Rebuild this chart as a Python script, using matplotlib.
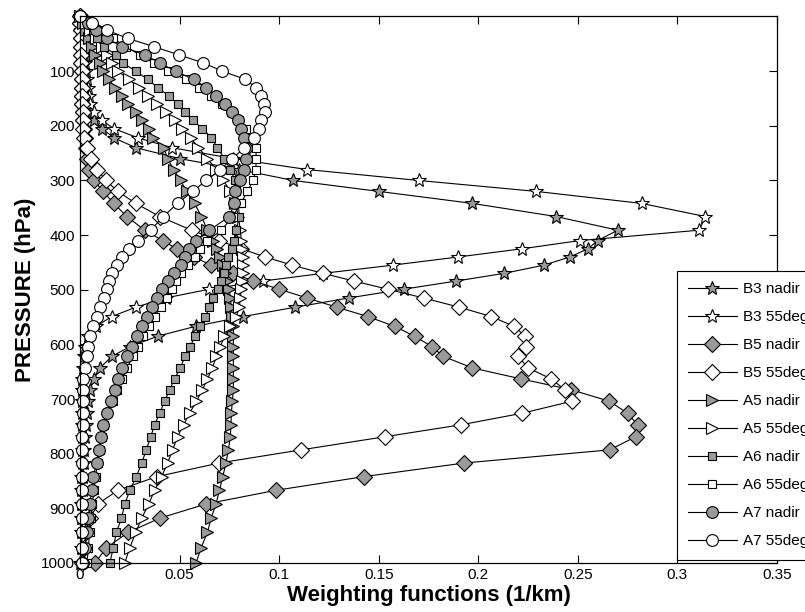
import matplotlib
matplotlib.use("Agg")
import matplotlib.pyplot as plt

plt.rcParams['font.family'] = ['Liberation Sans', 'DejaVu Sans']

pressure = [0, 12, 25, 40, 55, 70, 85, 100, 115, 130, 145, 160, 175, 190, 205, 222, 240, 260, 280, 300,
            320, 342, 366, 391, 410, 425, 440, 455, 470, 484, 499, 515, 532, 549, 567, 585, 604, 622, 643, 663,
            683, 704, 726, 747, 769, 793, 817, 842, 867, 892, 918, 944, 972, 1000]

b3_nadir = [0, .0003, .0006, .001, .0013, .0016, .002, .0025, .003, .0035,
            .004, .0045, .0055, .007, .011, .017, .028, .05, .08, .107,
            .15, .197, .239, .270, .260, .255, .246, .233, .213, .189,
            .1625, .135, .108, .082, .058, .039, .025, .016, .01, .007,
            .005, .004, .0033, .0028, .0024, .002, .0018, .0016, .0014, .0012,
            .001, .0009, .0008, .0007]
b3_55 = [0, .0005, .001, .0015, .002, .002, .0025, .003, .0035, .004,
         .0045, .005, .007, .011, .017, .029, .046, .077, .114, .170,
         .229, .282, .314, .311, .251, .222, .190, .157, .122, .092,
         .065, .043, .028, .016, .008, .004, .0025, .002, .0015, .0012,
         .001, .001, .001, .001, .0008, .0008, .0008, .0007, .0006, .0005,
         .0005, .0004, .0003, .0002]
b5_nadir = [0, .0002, .0003, .0004, .0005, .0006, .0007, .0008, .0009, .001,
            .0011, .0012, .0014, .0017, .002, .0025, .003, .0035, .0045, .0072,
            .0115, .017, .0235, .0325, .0415, .0485, .057, .066, .077, .087,
            .1, .114, .129, .1445, .158, .168, .1767, .1825, .197, .2213,
            .2467, .2658, .275, .28, .279, .266, .193, .1425, .0983, .0633,
            .04, .0242, .0133, .0075]
b5_55 = [0, .0002, .0003, .0004, .0005, .0006, .0007, .0008, .0009, .001,
         .0011, .0012, .0013, .0014, .0016, .0018, .0035, .0055, .0085, .013,
         .019, .028, .04, .056, .07, .081, .093, .1065, .122, .1375,
         .1545, .1725, .1905, .2065, .218, .2235, .224, .22, .225, .2365,
         .2435, .247, .222, .1915, .153, .111, .07, .0385, .019, .009,
         .005, .003, .002, .0012]
a5_nadir = [0, .0015, .003, .0045, .006, .0075, .01, .0117, .0145, .0175,
            .021, .024, .028, .031, .0345, .0365, .042, .044, .047, .0505,
            .0535, .0575, .061, .064, .067, .069, .0705, .072, .073, .074,
            .075, .0755, .076, .0765, .077, .077, .077, .077, .077, .077,
            .077, .0765, .076, .0758, .0755, .0745, .0733, .0717, .07, .0683,
            .0658, .064, .0608, .0583]
a5_55 = [0, .003, .005, .008, .011, .0135, .016, .019, .0245, .0295,
         .034, .0385, .043, .0475, .051, .0555, .0595, .064, .0685, .072,
         .0755, .078, .0795, .0805, .081, .0815, .082, .082, .082, .0815,
         .081, .0805, .08, .0785, .0755, .0725, .0705, .0685, .0665, .064,
         .0615, .0585, .055, .052, .049, .0465, .044, .041, .0375, .0345,
         .031, .028, .025, .0225]
a6_nadir = [0, .004, .0065, .0085, .012, .018, .0215, .028, .034, .039,
            .0445, .049, .0525, .0567, .0615, .066, .069, .0725, .0755, .078,
            .0785, .0795, .08, .0785, .0775, .0765, .0742, .0733, .0725, .0708,
            .0692, .067, .065, .063, .0603, .0578, .0553, .0528, .0503, .0475,
            .045, .0425, .04, .0375, .0355, .0333, .031, .0283, .025, .0225,
            .0208, .0183, .0167, .015]
a6_55 = [0, .006, .01, .0165, .023, .03, .037, .044, .053, .06,
         .066, .0715, .076, .08, .0835, .086, .0883, .0885, .0883, .087,
         .084, .0808, .0767, .071, .064, .0605, .0575, .054, .0505, .048,
         .0462, .0435, .0405, .0375, .0345, .0318, .029, .0265, .0237, .021,
         .0188, .0165, .0138, .0122, .011, .0098, .0088, .0078, .007, .0062,
         .0055, .0048, .0042, .0035]
a7_nadir = [0, .004, .008, .0135, .021, .0325, .04, .048, .057, .0635,
            .0685, .073, .0765, .0795, .081, .0825, .0833, .0833, .0825, .0805,
            .078, .0775, .075, .065, .058, .0545, .0525, .0505, .047, .0442,
            .041, .0385, .036, .0335, .031, .0285, .026, .0235, .021, .0193,
            .0175, .0158, .0135, .0117, .0105, .0095, .0083, .0067, .0058, .005,
            .0042, .0033, .0025, .0017]
a7_55 = [0, .006, .0135, .024, .037, .0495, .062, .0715, .083, .0883,
         .091, .0925, .093, .091, .09, .0875, .0825, .0765, .0705, .0635,
         .0565, .049, .0418, .0355, .029, .0245, .021, .0185, .016, .0145,
         .0135, .012, .0102, .0085, .0067, .005, .0042, .0035, .0025, .0017,
         .0015, .0014, .0013, .0013, .0012, .0012, .0011, .0011, .001, .001,
         .001, .0009, .0009, .0008]

labels = ['B3 nadir', 'B3 55deg', 'B5 nadir', 'B5 55deg', 'A5 nadir', 'A5 55deg',
          'A6 nadir', 'A6 55deg', 'A7 nadir', 'A7 55deg']
series = [b3_nadir, b3_55, b5_nadir, b5_55, a5_nadir, a5_55, a6_nadir, a6_55, a7_nadir, a7_55]
markers = ['*', '*', 'D', 'D', '>', '>', 's', 's', 'o', 'o']
sizes = [10, 10, 8.5, 8.5, 8, 8, 6, 6, 8.5, 8.5]
gray = '#9a9a9a'
fills = [gray, 'white'] * 5

xticks = [0, 0.05, 0.1, 0.15, 0.2, 0.25, 0.3, 0.35]
xticklabels = ['0', '0.05', '0.1', '0.15', '0.2', '0.25', '0.3', '0.35']
yticks = [100, 200, 300, 400, 500, 600, 700, 800, 900, 1000]

fig = plt.figure(figsize=(8.05, 6.12), dpi=100)
ax = fig.add_axes([80/805, 1-563/612, (777-80)/805, (563-16.5)/612])

for vals, lab, mk, ms, fc in zip(series, labels, markers, sizes, fills):
    ax.plot(vals, pressure, color='black', linewidth=0.8, marker=mk, markersize=ms,
            markerfacecolor=fc, markeredgecolor='black', markeredgewidth=0.8,
            label=lab, clip_on=False)

ax.set_xlim(0, 0.35)
ax.set_ylim(1000, 0)
ax.set_xticks(xticks)
ax.set_xticklabels(xticklabels)
ax.set_yticks(yticks)
ax.tick_params(direction='in', top=True, right=True, length=6, width=0.8, labelsize=11)
for s in ax.spines.values():
    s.set_linewidth(0.9)

ax.set_xlabel('Weighting functions (1/km)', fontsize=16, fontweight='bold', labelpad=2)
ax.set_ylabel('PRESSURE (hPa)', fontsize=16, fontweight='bold', labelpad=4)

leg = ax.legend(loc='upper left', bbox_to_anchor=(677/805, 1-271/612), bbox_transform=fig.transFigure,
                fontsize=11, frameon=True, fancybox=False, framealpha=1, edgecolor='black',
                handlelength=3.2, handletextpad=0.4, labelspacing=0.92, borderpad=0.72, borderaxespad=0)
leg.get_frame().set_linewidth(0.8)
leg.set_zorder(10)

fig.savefig('out.png', dpi=100)
